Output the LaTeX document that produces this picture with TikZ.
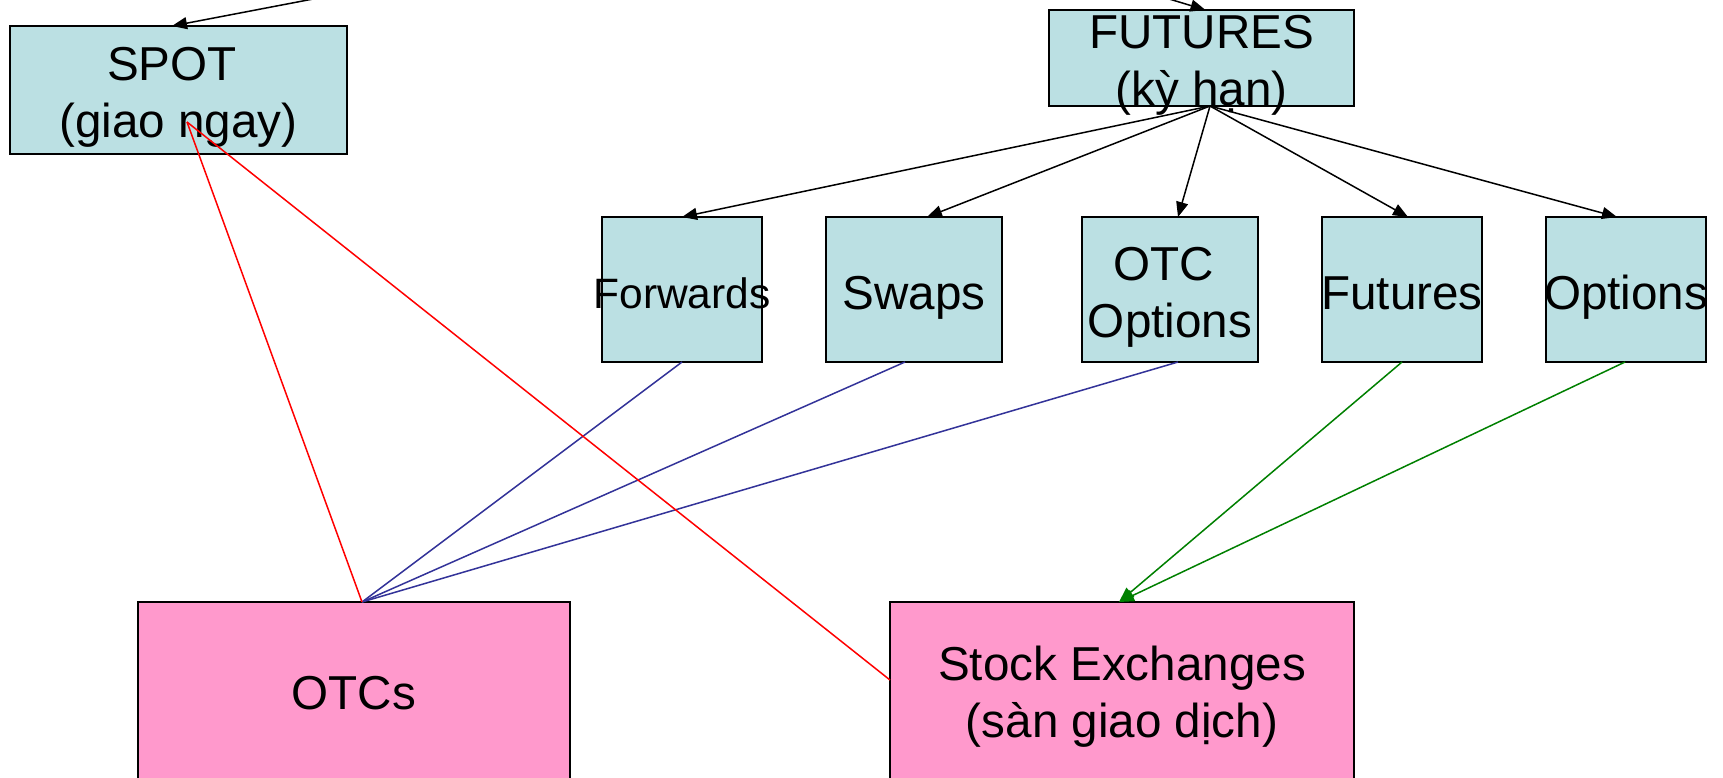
\documentclass[tikz,border=0pt]{standalone}
\usepackage{fontspec}
\setmainfont{Liberation Sans}
\usetikzlibrary{arrows.meta,calc}
\definecolor{boxblue}{HTML}{BBE0E3}
\definecolor{boxpink}{HTML}{FF99CC}
\definecolor{lineblue}{HTML}{333399}
\definecolor{linegreen}{HTML}{008000}
\definecolor{linered}{HTML}{FF0000}
\newcommand\twoline[2]{\hbox to 0pt{\hss\vtop{\baselineskip=57pt\lineskiplimit=-200pt\halign{\hfil##\hfil\cr#1\cr#2\cr}}\hss}}
\newcommand\oneline[1]{\hbox to 0pt{\hss#1\hss}}
\tikzset{
  box/.style={rectangle, draw=black, line width=2pt, inner sep=0pt, outer sep=0pt,
    font=\fontsize{47.6}{57}\selectfont},
  bluebox/.style={box, fill=boxblue},
  pinkbox/.style={box, fill=boxpink},
  conn/.style={line width=1.5pt},
  tip/.style={-{Triangle[length=15pt,width=12pt]}},
}
\begin{document}
\begin{tikzpicture}[x=1pt,y=-1pt]
\useasboundingbox (0,0) rectangle (1723,777);
\clip (0,0) rectangle (1723,777);
\fill[white] (0,0) rectangle (1723,777);

% top boxes
\node[bluebox, minimum width=337pt, minimum height=128pt, text height=0pt, text depth=20pt]
  (spot) at (178.5,90) {\twoline{SPOT\ }{(giao ngay)}};
\node[bluebox, minimum width=305pt, minimum height=96pt, text height=0pt, text depth=20pt]
  (fut) at (1201.5,58) {\twoline{FUTURES}{(kỳ hạn)}};

% middle boxes
\node[bluebox, minimum width=160pt, minimum height=145pt, text height=37pt, text depth=0pt,
  font=\fontsize{42.5}{50}\selectfont]
  (fwd) at (682,289.5) {\oneline{Forwards}};
\node[bluebox, minimum width=176pt, minimum height=145pt, text height=39pt, text depth=0pt]
  (swp) at (914,289.5) {\oneline{Swaps}};
\node[bluebox, minimum width=176pt, minimum height=145pt, text height=0pt, text depth=19pt]
  (otco) at (1170,289.5) {\twoline{OTC\ }{Options}};
\node[bluebox, minimum width=160pt, minimum height=145pt, text height=39pt, text depth=0pt]
  (futs) at (1402,289.5) {\oneline{Futures}};
\node[bluebox, minimum width=160pt, minimum height=145pt, text height=39pt, text depth=0pt]
  (opts) at (1626,289.5) {\oneline{Options}};

% bottom boxes
\node[pinkbox, minimum width=432pt, minimum height=188pt, text height=26pt, text depth=0pt]
  (otcs) at (354,696) {\oneline{OTCs}};
\node[pinkbox, minimum width=464pt, minimum height=188pt, text height=0pt, text depth=32pt]
  (stock) at (1122,696) {\twoline{Stock Exchanges}{(sàn giao dịch)}};

% free ends
\coordinate (inspot) at (334,-5);
\coordinate (infut) at (1156,-5);
\coordinate (spotpt) at (187,122);

% incoming arrows from outside
\draw[conn, tip] (inspot) -- ($(spot.north)+(-6.5,0)$);
\draw[conn, tip] (infut) -- ($(fut.north)+(4,0)$);

% FUTURES to its kinds
\coordinate (futsrc) at ($(fut.south)+(8.5,0)$);
\draw[conn, tip] (futsrc) -- (fwd.north);
\draw[conn, tip] (futsrc) -- ($(swp.north)+(13,0)$);
\draw[conn, tip] (futsrc) -- ($(otco.north)+(8,0)$);
\draw[conn, tip] (futsrc) -- ($(futs.north)+(6,0)$);
\draw[conn, tip] (futsrc) -- ($(opts.north)+(-9,0)$);

% blue lines to OTCs
\coordinate (otctop) at ($(otcs.north)+(8,0)$);
\draw[conn, lineblue] (fwd.south) -- (otctop);
\draw[conn, lineblue] ($(swp.south)+(-9,0)$) -- (otctop);
\draw[conn, lineblue] ($(otco.south)+(8,0)$) -- (otctop);

% green arrows to stock exchanges
\draw[conn, linegreen, tip] (futs.south) -- ($(stock.north)+(-3,0)$);
\draw[conn, linegreen, tip] ($(opts.south)+(-1,0)$) -- ($(stock.north)+(-3,0)$);

% red lines from SPOT
\draw[conn, linered] (spotpt) -- (otctop);
\draw[conn, linered] (spotpt) -- ($(stock.north west)+(0,78)$);
\end{tikzpicture}
\end{document}
